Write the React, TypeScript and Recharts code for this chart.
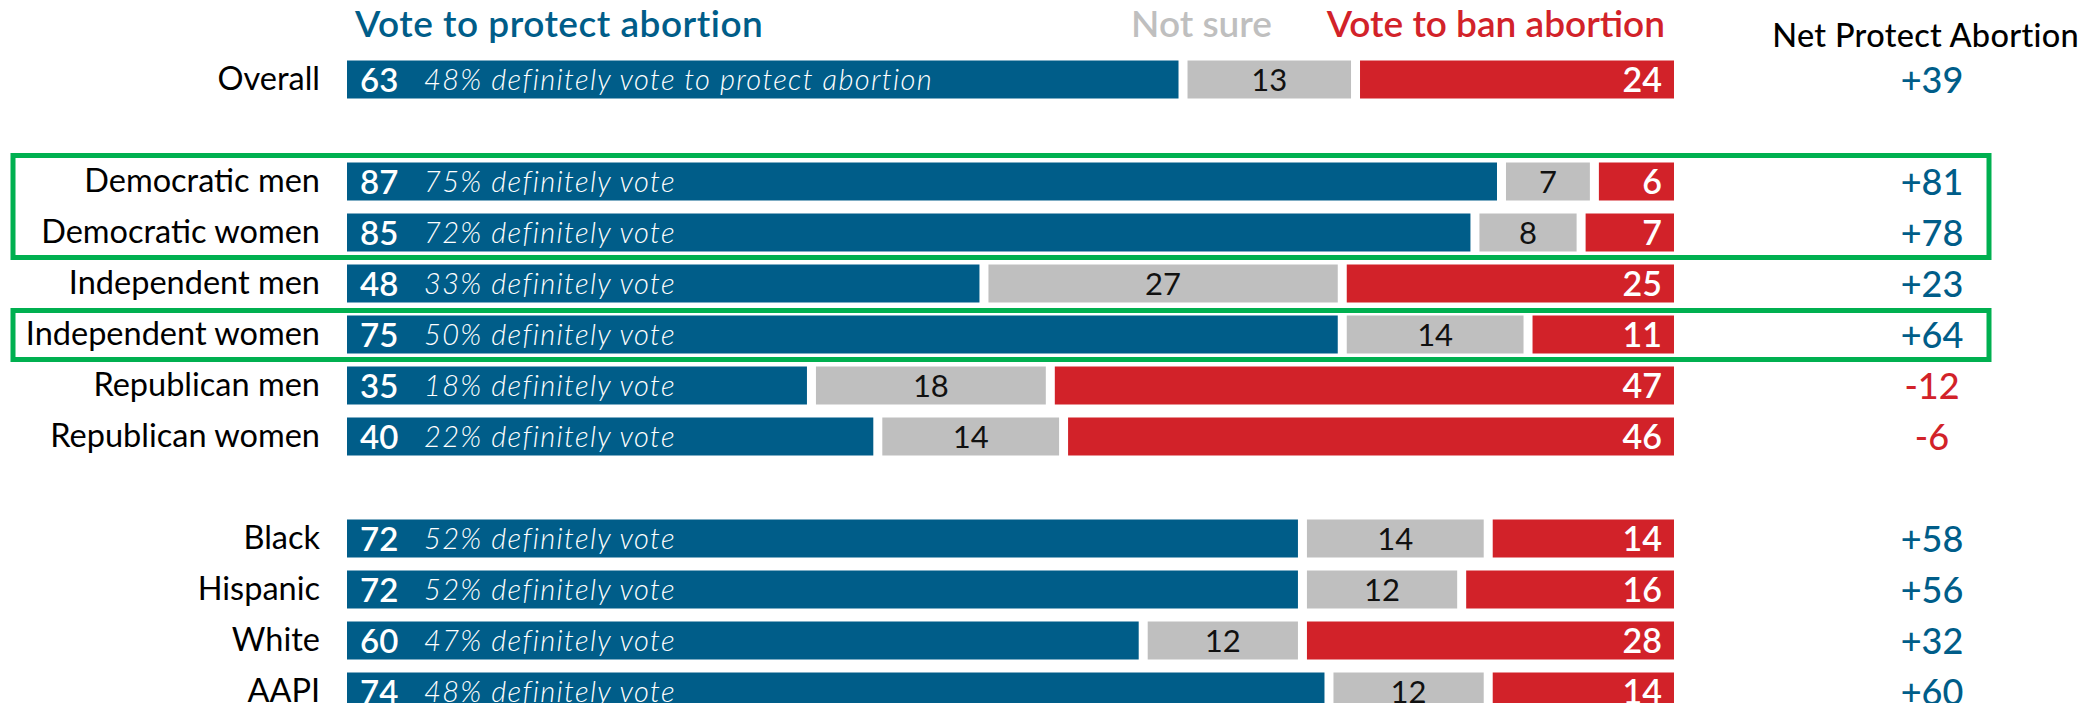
import { Bar, BarChart, LabelList, XAxis, YAxis } from "recharts"

// Rows top to bottom; "" rows are blank spacer rows
const groups = [
  "Overall",
  "",
  "Democratic men",
  "Democratic women",
  "Independent men",
  "Independent women",
  "Republican men",
  "Republican women",
  "",
  "Black",
  "Hispanic",
  "White",
  "AAPI",
]
const protect = [63, null, 87, 85, 48, 75, 35, 40, null, 72, 72, 60, 74]
const notSure = [13, null, 7, 8, 27, 14, 18, 14, null, 14, 12, 12, 12]
const ban = [24, null, 6, 7, 25, 11, 47, 46, null, 14, 16, 28, 14]
const definitely = [48, null, 75, 72, 33, 50, 18, 22, null, 52, 52, 47, 48]
const definitelyText = ["definitely vote to protect abortion", "", "definitely vote", "definitely vote", "definitely vote", "definitely vote", "definitely vote", "definitely vote", "", "definitely vote", "definitely vote", "definitely vote", "definitely vote"]
// highlighted blocks (first row index, last row index)
const highlights = [
  [2, 3],
  [5, 5],
]

const BLUE = "#005d89"
const GRAY = "#bfbfbf"
const RED = "#d22229"
const GREEN = "#00b050"
const FONT = "Lato, 'Noto Sans', sans-serif"

const WIDTH = 2099
const TOP = 53.5
const ROW = 51
const HEIGHT = TOP + groups.length * ROW
const LEFT = 347
const RIGHT = 425
const LABEL_RIGHT = 320
const HALF_GAP = 4.5

const data = groups.map((g, i) => ({
  key: `row${i}`,
  label: g,
  protect: protect[i],
  notSure: notSure[i],
  ban: ban[i],
  definitely: definitely[i],
  defText: definitelyText[i],
}))

const gapShape = (trimLeft: boolean, trimRight: boolean) => (p: any) => {
  if (!p.width || p.width <= 0) return <g />
  const x = p.x + (trimLeft ? HALF_GAP : 0)
  const w = p.width - (trimLeft ? HALF_GAP : 0) - (trimRight ? HALF_GAP : 0)
  return <rect x={x} y={p.y} width={Math.max(0, w)} height={p.height} fill={p.fill} />
}

function LeftTick({ y, payload }: any) {
  const idx = data.findIndex((d) => d.key === payload.value)
  const label = idx >= 0 ? data[idx].label : ""
  return (
    <text x={LABEL_RIGHT} y={y + 11} textAnchor="end" fontFamily={FONT} fontSize={32.5} fill="#000">
      {label}
    </text>
  )
}

function ProtectLabel(p: any) {
  if (p.value == null) return null
  const [v, def, txt] = String(p.value).split("|")
  const cy = p.y + p.height / 2
  return (
    <g>
      <text x={p.x + 13} y={cy + 12} fontFamily={FONT} fontSize={33} fontWeight={600} fill="#fff">
        {v}
      </text>
      <text x={p.x + 77} y={cy + 10} fontFamily={FONT} fontSize={29} fontStyle="italic" fontWeight={300} letterSpacing={1.35} fill="#fff">
        {`${def}% ${txt}`}
      </text>
    </g>
  )
}

function NotSureLabel(p: any) {
  if (p.value == null) return null
  const cy = p.y + p.height / 2
  return (
    <text x={p.x + p.width / 2} y={cy + 11} textAnchor="middle" fontFamily={FONT} fontSize={31} fill="#111">
      {p.value}
    </text>
  )
}

function BanLabel(p: any) {
  if (p.value == null) return null
  const cy = p.y + p.height / 2
  return (
    <text x={p.x + p.width - 12} y={cy + 12} textAnchor="end" fontFamily={FONT} fontSize={34} fontWeight={600} fill="#fff">
      {p.value}
    </text>
  )
}

function NetLabel(p: any) {
  if (p.value == null) return null
  const net = Number(p.value)
  const cy = p.y + p.height / 2
  return (
    <text x={p.x + p.width + 258} y={cy + 13} textAnchor="middle" fontFamily={FONT} fontSize={36} fontWeight={500} fill={net < 0 ? RED : BLUE}>
      {net > 0 ? `+${net}` : `${net}`}
    </text>
  )
}

function Overlay() {
  return (
    <svg width={WIDTH} height={711} style={{ position: "absolute", left: 0, top: 0, pointerEvents: "none" }}>
      <text x={355} y={37} fontFamily={FONT} fontSize={37} fontWeight={600} letterSpacing={0.5} fill={BLUE}>
        Vote to protect abortion
      </text>
      <text x={1272} y={37} textAnchor="end" fontFamily={FONT} fontSize={37} fontWeight={600} fill={GRAY}>
        Not sure
      </text>
      <text x={1665} y={37} textAnchor="end" fontFamily={FONT} fontSize={37} fontWeight={600} fill={RED}>
        Vote to ban abortion
      </text>
      <text x={2079} y={47} textAnchor="end" fontFamily={FONT} fontSize={32.5} fontWeight={500} letterSpacing={0.3} fill="#000">
        Net Protect Abortion
      </text>
      {highlights.map(([a, b], i) => (
        <rect
          key={i}
          x={13}
          y={TOP + a * ROW + (i === 0 ? 0 : 2)}
          width={1976}
          height={(b - a + 1) * ROW - (i === 0 ? 0 : 2)}
          fill="none"
          stroke={GREEN}
          strokeWidth={5}
        />
      ))}
    </svg>
  )
}

export default function App() {
  return (
    <div style={{ position: "relative", width: WIDTH, height: 711, margin: -8, overflow: "hidden", background: "#fff" }}>
      <BarChart
        width={WIDTH}
        height={HEIGHT}
        data={data}
        layout="vertical"
        margin={{ top: TOP, right: RIGHT, bottom: 0, left: 0 }}
        barSize={38}
      >
        <XAxis type="number" domain={[0, 100]} hide />
        <YAxis type="category" dataKey="key" width={LEFT} axisLine={false} tickLine={false} tick={<LeftTick />} interval={0} />
        <Bar dataKey="protect" stackId="a" fill={BLUE} isAnimationActive={false} shape={gapShape(false, true)}>
          <LabelList
            dataKey={(d: any) => (d.protect == null ? null : `${d.protect}|${d.definitely}|${d.defText}`)}
            content={<ProtectLabel />}
          />
        </Bar>
        <Bar dataKey="notSure" stackId="a" fill={GRAY} isAnimationActive={false} shape={gapShape(true, true)}>
          <LabelList dataKey="notSure" content={<NotSureLabel />} />
        </Bar>
        <Bar dataKey="ban" stackId="a" fill={RED} isAnimationActive={false} shape={gapShape(true, false)}>
          <LabelList dataKey="ban" content={<BanLabel />} />
          <LabelList dataKey={(d: any) => (d.ban == null ? null : d.protect - d.ban)} content={<NetLabel />} />
        </Bar>
      </BarChart>
      <Overlay />
    </div>
  )
}
